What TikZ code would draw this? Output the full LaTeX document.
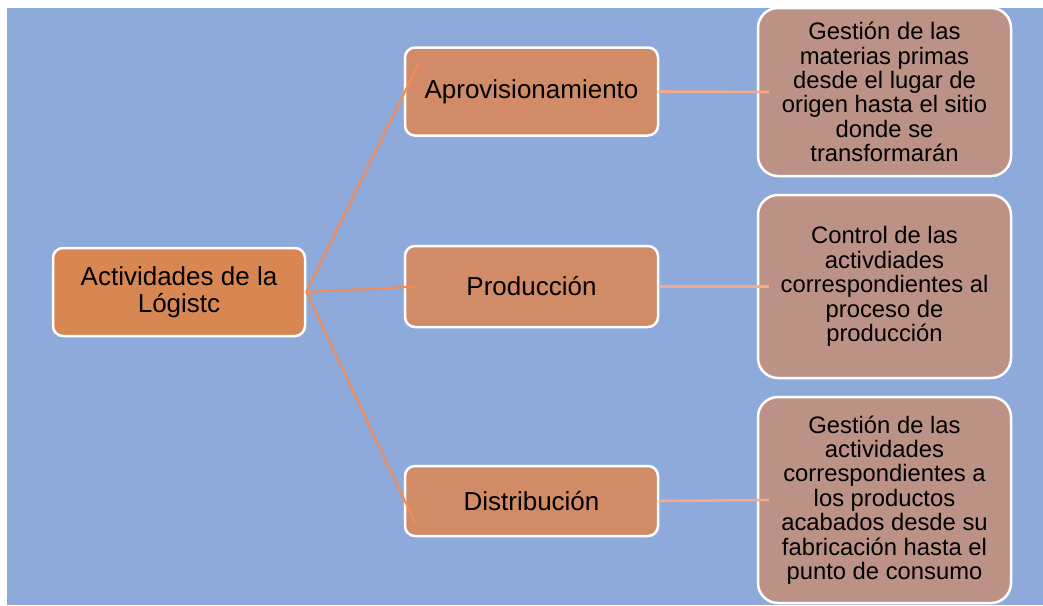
\documentclass[tikz,border=0pt]{standalone}
\usepackage{fontspec}
\setmainfont{Liberation Sans}
\usetikzlibrary{calc}
\definecolor{bgblue}{RGB}{142,170,219}
\definecolor{rootfill}{RGB}{217,135,82}
\definecolor{midfill}{RGB}{209,139,102}
\definecolor{leaffill}{RGB}{188,146,135}
\definecolor{rootline}{RGB}{240,140,90}
\definecolor{leafline}{RGB}{244,170,140}
\tikzset{
  rootbox/.style={draw=white, line width=2.5pt, fill=rootfill, rounded corners=10pt,
    minimum width=252pt, minimum height=88pt, align=center, inner sep=0pt,
    font=\fontsize{26}{27}\selectfont},
  midbox/.style={draw=white, line width=2.5pt, fill=midfill, rounded corners=10pt,
    minimum width=253pt, align=center, inner sep=0pt,
    font=\fontsize{26}{27}\selectfont},
  leafbox/.style={draw=white, line width=2.5pt, fill=leaffill, rounded corners=20pt,
    minimum width=253pt, align=center, inner sep=0pt,
    font=\fontsize{23.8}{24.4}\selectfont},
  rootconn/.style={draw=rootline, line width=2.2pt},
  leafconn/.style={draw=leafline, line width=2.6pt},
}
\begin{document}
\begin{tikzpicture}[x=1pt,y=-1pt]
\useasboundingbox (0,0) rectangle (1043,605);
\fill[white] (0,0) rectangle (1043,605);
\fill[bgblue] (7,8) rectangle (1043,605);

\node[rootbox] (root) at (179,292) {Actividades de la\\Lógistc};
\node[midbox, minimum height=88pt] (apr) at (531.5,91.5) {Aprovisionamiento};
\node[midbox, minimum height=81pt] (prod) at (531.5,286.5) {Producción};
\node[midbox, minimum height=70pt] (dist) at (531.5,501) {Distribución};

\node[leafbox, minimum height=168pt] (la) at (884.5,92) {Gestión de las\\materias primas\\desde el lugar de\\origen hasta el sitio\\donde se\\transformarán};
\node[leafbox, minimum height=183pt] (lb) at (884.5,286.5) {Control de las\\activdiades\\correspondientes al\\proceso de\\producción};
\node[leafbox, minimum height=206pt] (lc) at (884.5,500) {Gestión de las\\actividades\\correspondientes a\\los productos\\acabados desde su\\fabricación hasta el\\punto de consumo};

\coordinate (ea) at ($(apr.west)+(15,-28)$);
\coordinate (eb) at ($(prod.west)+(13,0)$);
\coordinate (ec) at ($(dist.west)+(11,21)$);
\draw[rootconn] (root.east) -- (ea);
\draw[rootconn] (root.east) -- (eb);
\draw[rootconn] (root.east) -- (ec);

\coordinate (fa) at ($(la.west)+(12,0)$);
\coordinate (fb) at ($(lb.west)+(12,0)$);
\coordinate (fc) at ($(lc.west)+(12,0)$);
\draw[leafconn] (apr.east) -- (fa);
\draw[leafconn] (prod.east) -- (fb);
\draw[leafconn] (dist.east) -- (fc);
\end{tikzpicture}
\end{document}
